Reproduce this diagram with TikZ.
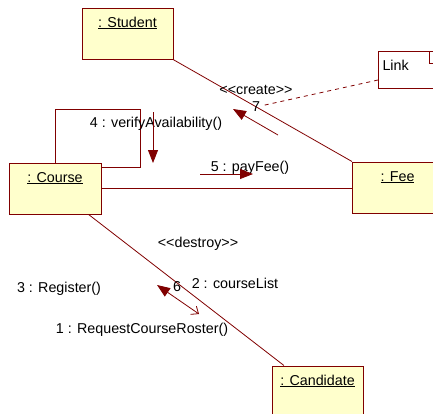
\documentclass[tikz,border=0pt]{standalone}
\usepackage{fontspec}
\setmainfont{Liberation Sans}
\usetikzlibrary{arrows.meta,calc}
\definecolor{umlred}{RGB}{128, 0, 0}
\definecolor{umlfill}{RGB}{255, 255, 204}

\begin{document}
\begin{tikzpicture}[x=1pt, y=-1pt, font=\fontsize{14.3}{16}\selectfont,
  obj/.style={draw=umlred, fill=umlfill, line width=1pt, inner sep=0pt,
    minimum width=91pt, text height=19pt, text depth=32pt},
  notebox/.style={draw=umlred, line width=1pt, anchor=north west, inner ysep=0pt,
    inner xsep=4pt, text width=54pt, align=left, text height=19pt, text depth=18pt},
  assoc/.style={umlred, line width=0.8pt},
  msg/.style={umlred, line width=0.8pt, -{Triangle[length=13pt, width=10pt]}},
  lbl/.style={inner sep=1pt}]

\useasboundingbox (0,0) rectangle (433,413);
\clip (0,0) rectangle (433,413);

% ===== Objects =====
\node[obj] (student) at (127.5,33.5) {\underline{: Student}};
\node[obj, minimum width=92pt] (course) at (55,188.5) {\underline{: Course}};
\node[obj] (fee) at (397.5,187.5) {\underline{: Fee}};
\node[obj] (candidate) at (317.5,391.5) {\underline{: Candidate}};

% note, cut by the right edge
\node[notebox, minimum width=62pt] (link) at (378,51) {Link};
\draw[umlred, line width=1pt] ($(link.north east)+(-12,0)$) |- ++(12,12);

% ===== Links =====
\draw[assoc] (student) -- (fee);
\draw[assoc] (course.east) -- (course.east -| fee.west);
\draw[assoc] (course) -- (candidate);

% self link on Course
\coordinate (loopne) at (140,109);
\draw[assoc] (course.north) |- (loopne) |- ($(course.north east)+(0,5)$);

% ===== Messages =====
\node[lbl] (l4) at (156,124) {4 : verifyAvailability()};
\coordinate (m4a) at (153,112);
\coordinate (m4b) at (153,163);
\draw[msg] (m4a) -- (m4b);

\node[lbl] (l5) at (250,168) {5 : payFee()};
\coordinate (m5a) at (200,174);
\coordinate (m5b) at (253,174);
\draw[msg] (m5a) -- (m5b);

\node[lbl] (lcreate) at (256,90) {<{}<create>{}>};
\node[lbl] (l7) at (256,107) {7};
\coordinate (m7a) at (278,135);
\coordinate (m7b) at (233,109);
\draw[msg] (m7a) -- (m7b);
\draw[umlred, line width=0.8pt, dash pattern=on 4pt off 4pt]
  ($(link.south west)+(0,-9)$) -- (l7);

\node[lbl] (ldestroy) at (198,244) {<{}<destroy>{}>};
\node[lbl] (l2) at (235,283) {2 : courseList};
\node[lbl] (l6) at (177,287) {6};
\node[lbl] (l3) at (59,289) {3 : Register()};
\node[lbl] (l1) at (142,330) {1 : RequestCourseRoster()};
\coordinate (m6a) at (157,285);
\coordinate (m6b) at (199,314);
\draw[umlred, line width=0.8pt,
  {Triangle[length=13pt, width=10pt]}-{Straight Barb[length=6pt, width=10pt]}]
  (m6a) -- (m6b);

\end{tikzpicture}
\end{document}
